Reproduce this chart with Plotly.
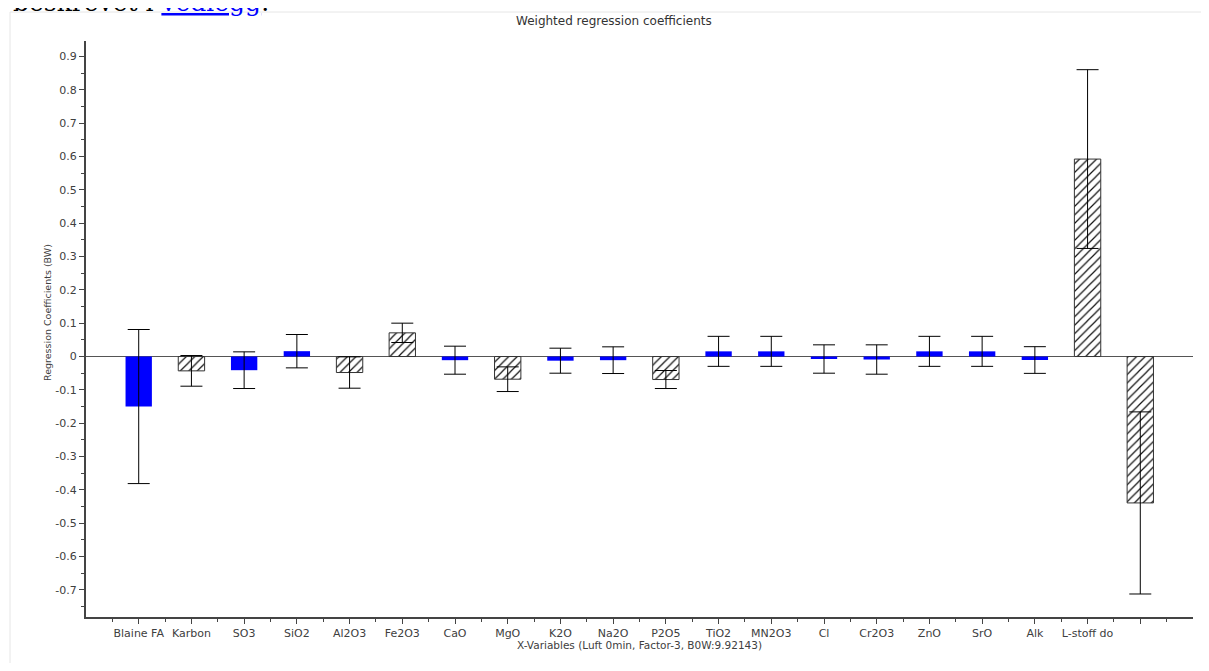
import plotly.graph_objects as go

# ---- data ----
categories = ["Blaine FA", "Karbon", "SO3", "SiO2", "Al2O3", "Fe2O3", "CaO", "MgO",
              "K2O", "Na2O", "P2O5", "TiO2", "MN2O3", "Cl", "Cr2O3", "ZnO", "SrO",
              "Alk", "L-stoff do", ""]
coefficients = [-0.150, -0.043, -0.041, 0.016, -0.048, 0.071, -0.011, -0.068,
                -0.0125, -0.011, -0.069, 0.0155, 0.0155, -0.0075, -0.009, 0.0155,
                0.0155, -0.0105, 0.592, -0.439]
uncertainty = [0.231, 0.046, 0.055, 0.050, 0.047, 0.029, 0.042, 0.037,
               0.0375, 0.040, 0.027, 0.045, 0.045, 0.0425, 0.044, 0.045,
               0.045, 0.040, 0.268, 0.273]
significant = [True, False, True, True, False, False, True, False,
               True, True, False, True, True, True, True, True,
               True, True, False, False]
y_ticks = [0.9, 0.8, 0.7, 0.6, 0.5, 0.4, 0.3, 0.2, 0.1, 0.0,
           -0.1, -0.2, -0.3, -0.4, -0.5, -0.6, -0.7]

positions = list(range(len(categories)))

FONT = "DejaVu Sans"
TXT = "#404040"

fig = go.Figure()

sig_x = [p for p, s in zip(positions, significant) if s]
sig_y = [c for c, s in zip(coefficients, significant) if s]
sig_e = [e for e, s in zip(uncertainty, significant) if s]
ns_x = [p for p, s in zip(positions, significant) if not s]
ns_y = [c for c, s in zip(coefficients, significant) if not s]
ns_e = [e for e, s in zip(uncertainty, significant) if not s]

fig.add_trace(go.Bar(
    x=sig_x, y=sig_y, width=0.5,
    marker=dict(color="#0000ff", line=dict(width=0)),
    error_y=dict(type="data", array=sig_e, visible=True, color="black",
                 thickness=1, width=11),
    showlegend=False,
))
fig.add_trace(go.Bar(
    x=ns_x, y=ns_y, width=0.5,
    marker=dict(color="white", line=dict(color="#333333", width=1),
                pattern=dict(shape="/", fgcolor="#111111", bgcolor="white",
                             size=6, solidity=0.2, fillmode="replace")),
    error_y=dict(type="data", array=ns_e, visible=True, color="black",
                 thickness=1, width=11),
    showlegend=False,
))

# the page body has an 8px margin: the figure starts at (8, 8) in the window
OFF = 8
W, H = 1209 - 2 * OFF, 671 - 2 * OFF
PL, PR, PT, PB = 86, 1193, 41, 617          # plot area in window pixels
L, T = PL - OFF, PT - OFF
R = W - (PR - OFF)
B = H - (PB - OFF)
pw, ph = PR - PL, PB - PT


def px_x(px):
    return (px - PL) / pw


def px_y(py):
    return (PB - py) / ph


fig.update_layout(
    width=W, height=H,
    margin=dict(l=L, r=R, t=T, b=B, pad=0),
    paper_bgcolor="white", plot_bgcolor="white",
    barmode="overlay",
    font=dict(family=FONT, size=11, color=TXT),
    xaxis=dict(
        range=[-1, len(categories)],
        tickmode="array", tickvals=positions, ticktext=categories,
        ticks="outside", ticklen=5, tickwidth=1, tickcolor="#444444",
        showline=True, linecolor="#444444", linewidth=2,
        showgrid=False, zeroline=False,
        tickfont=dict(family=FONT, size=11, color=TXT),
        minor=dict(tickmode="array", tickvals=[p + 0.5 for p in [-1] + positions],
                   ticks="outside", ticklen=3, tickcolor="#444444", showgrid=False),
    ),
    yaxis=dict(
        range=[-0.781, 0.946],
        tickmode="array", tickvals=y_ticks,
        ticktext=[("%g" % v) for v in y_ticks],
        ticks="outside", ticklen=5, tickwidth=1, tickcolor="#444444",
        showline=True, linecolor="#444444", linewidth=2,
        showgrid=False,
        zeroline=True, zerolinecolor="#555555", zerolinewidth=1,
        tickfont=dict(family=FONT, size=11, color=TXT),
        minor=dict(dtick=0.05, tick0=0, ticks="outside", ticklen=3,
                   tickcolor="#444444", showgrid=False),
    ),
    shapes=[dict(type="rect", xref="paper", yref="paper",
                 x0=px_x(10), x1=px_x(1260), y0=px_y(700), y1=px_y(12),
                 line=dict(color="#e6e6e6", width=1), fillcolor="rgba(0,0,0,0)",
                 layer="below")],
    annotations=[
        dict(text="Weighted regression coefficients", xref="paper", yref="paper",
             x=px_x(614), y=px_y(21), xanchor="center", yanchor="middle",
             showarrow=False, font=dict(family=FONT, size=12, color="#333333")),
        dict(text="Regression Coefficients (BW)", xref="paper", yref="paper",
             x=px_x(47), y=px_y(313), xanchor="center", yanchor="middle",
             textangle=-90, showarrow=False,
             font=dict(family=FONT, size=9.5, color=TXT)),
        dict(text="X-Variables (Luft 0min, Factor-3, B0W:9.92143)", xref="paper",
             yref="paper", x=px_x(639), y=px_y(645), xanchor="center",
             yanchor="middle", showarrow=False,
             font=dict(family=FONT, size=10.5, color=TXT)),
        dict(text="beskrevet i <span style='color:#0000ff'><u>vedlegg</u></span>.",
             xref="paper", yref="paper", x=px_x(11), y=px_y(19),
             xanchor="left", yanchor="bottom", showarrow=False,
             font=dict(family="DejaVu Serif", size=25, color="black")),
    ],
)

fig.write_html("out.html")
